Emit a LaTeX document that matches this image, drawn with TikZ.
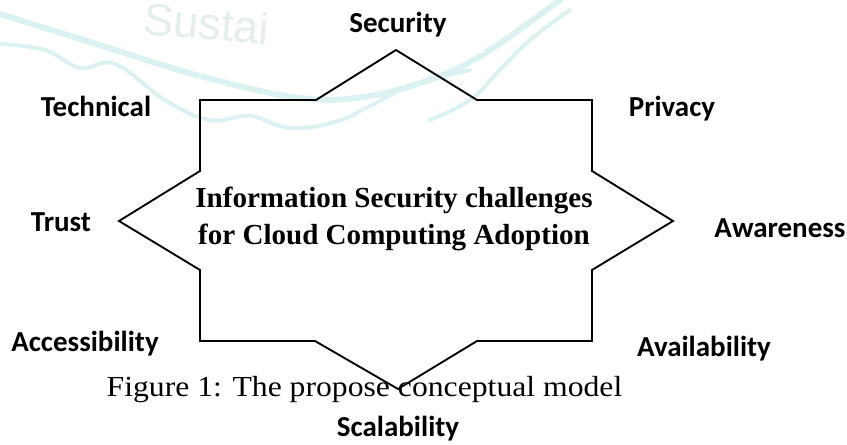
\documentclass[tikz,border=0pt]{standalone}
\usepackage{fontspec}
\usepackage{graphicx}
\setmainfont{Liberation Serif}
\newfontfamily\labelfont{Carlito}
\newfontfamily\markfont{Liberation Sans}
\definecolor{wmteal}{RGB}{220,242,242}
\definecolor{wmtext}{RGB}{228,238,238}
\tikzset{
  lbl/.style={font=\labelfont\bfseries\fontsize{21.75}{26}\selectfont, anchor=base, inner sep=0pt},
  ctext/.style={font=\bfseries\fontsize{21.8}{26}\selectfont, anchor=base, inner sep=0pt},
  capt/.style={font=\fontsize{21.8}{26}\selectfont, anchor=base, inner sep=0pt},
  starline/.style={draw=black, line width=1.4pt, line join=miter},
  band/.style={draw=wmteal, line width=4.5pt, line cap=round},
  thinband/.style={draw=wmteal, line width=3pt, line cap=round}
}
\begin{document}
\begin{tikzpicture}[x=0.75pt,y=-0.75pt]
\useasboundingbox (0,0) rectangle (847,445);
% faint watermark
\draw[band] plot[smooth, tension=0.6] coordinates {(0,14) (90,42) (200,76) (300,98) (370,96) (440,76) (490,50) (560,0)};
\draw[thinband] plot[smooth, tension=0.7] coordinates {(0,44) (45,50) (80,68) (115,64) (165,100) (210,120) (250,116) (290,128) (335,122) (370,106) (410,86) (470,70)};
\draw[thinband] plot[smooth, tension=0.7] coordinates {(430,120) (470,100) (500,70) (530,40) (570,10)};
\node[font=\markfont\fontsize{34}{40}\selectfont, text=wmtext, rotate=-5, anchor=base west, inner sep=0pt] (wm) at (142,34) {Sustai};
% white patch behind the top label
\fill[white] (312,0) rectangle (484,53);
% star outline
\coordinate (p1) at (200,100);
\coordinate (p2) at (316,100);
\coordinate (p3) at (396,50);
\coordinate (p4) at (477,100);
\coordinate (p5) at (592,100);
\coordinate (p6) at (592,171);
\coordinate (p7) at (673,221);
\coordinate (p8) at (592,270);
\coordinate (p9) at (592,341);
\coordinate (p10) at (477,341);
\coordinate (p11) at (398,389);
\coordinate (p12) at (315,341);
\coordinate (p13) at (200,341);
\coordinate (p14) at (200,270);
\coordinate (p15) at (119,221);
\coordinate (p16) at (200,171);
\draw[starline] (p1) -- (p2) -- (p3) -- (p4) -- (p5) -- (p6) -- (p7) -- (p8) -- (p9) -- (p10) -- (p11) -- (p12) -- (p13) -- (p14) -- (p15) -- (p16) -- cycle;
% labels
\node[lbl] (security) at (398,33) {Security};
\node[lbl] (technical) at (96,117) {Technical};
\node[lbl] (privacy) at (672,117) {Privacy};
\node[lbl] (trust) at (61,232) {Trust};
\node[lbl] (awareness) at (780,238) {Awareness};
\node[lbl] (accessibility) at (85,352) {Accessibility};
\node[lbl] (availability) at (704,357) {Availability};
\node[lbl] (scalability) at (398,437) {Scalability};
% centre text
\node[ctext] (title1) at (394,208) {Information Security challenges};
\node[ctext] (title2) at (394,245) {for Cloud Computing Adoption};
% caption
\node[capt] (caption) at (364.5,397) {\scalebox{1.09}[1]{Figure 1: The propose conceptual model}};
\end{tikzpicture}
\end{document}
